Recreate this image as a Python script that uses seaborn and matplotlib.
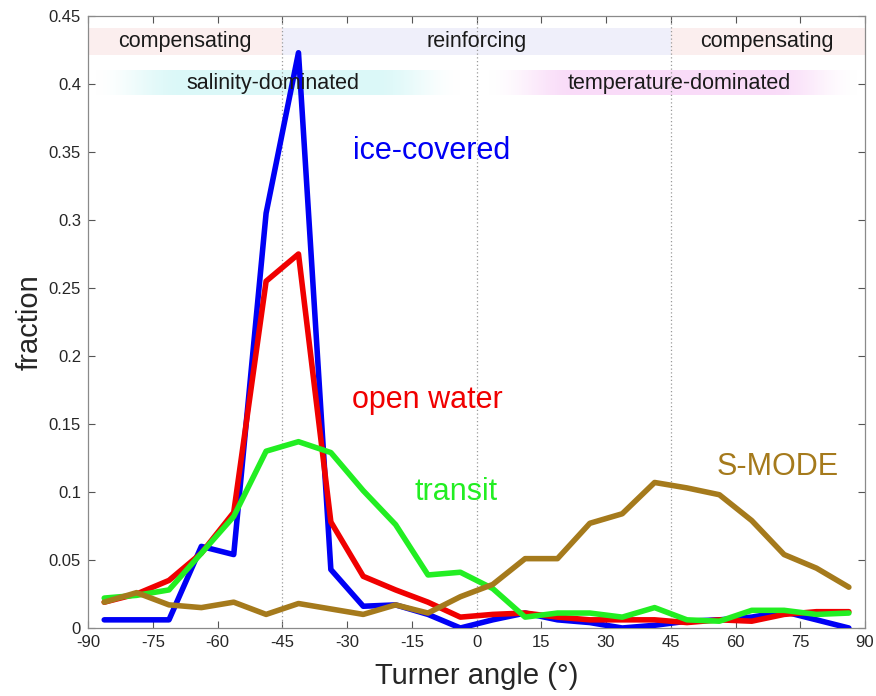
import numpy as np
import pandas as pd
import matplotlib
matplotlib.use("Agg")
import matplotlib.pyplot as plt
import seaborn as sns

# ---- data ----
angle = [-86.25, -78.75, -71.25, -63.75, -56.25, -48.75, -41.25, -33.75,
         -26.25, -18.75, -11.25, -3.75, 3.75, 11.25, 18.75, 26.25,
         33.75, 41.25, 48.75, 56.25, 63.75, 71.25, 78.75, 86.25]

ice_covered = [0.006, 0.006, 0.006, 0.060, 0.054, 0.305, 0.423, 0.043,
               0.016, 0.017, 0.010, 0.000, 0.006, 0.011, 0.006, 0.004,
               0.000, 0.002, 0.005, 0.006, 0.008, 0.012, 0.006, 0.000]
open_water = [0.019, 0.025, 0.035, 0.055, 0.085, 0.255, 0.275, 0.078,
              0.038, 0.028, 0.019, 0.008, 0.010, 0.011, 0.008, 0.006,
              0.006, 0.006, 0.004, 0.006, 0.005, 0.010, 0.012, 0.012]
transit = [0.022, 0.024, 0.028, 0.055, 0.082, 0.130, 0.137, 0.129,
           0.101, 0.076, 0.039, 0.041, 0.029, 0.008, 0.011, 0.011,
           0.008, 0.015, 0.006, 0.005, 0.013, 0.013, 0.010, 0.011]
s_mode = [0.019, 0.026, 0.017, 0.015, 0.019, 0.010, 0.018, 0.014,
          0.010, 0.017, 0.011, 0.023, 0.032, 0.051, 0.051, 0.077,
          0.084, 0.107, 0.103, 0.098, 0.079, 0.054, 0.044, 0.030]

series_names = ["ice-covered", "open water", "transit", "S-MODE"]
series_vals = [ice_covered, open_water, transit, s_mode]
colors = {"ice-covered": "#0000F5", "open water": "#F00000",
          "transit": "#22EE22", "S-MODE": "#A57A1C"}

x_ticks = list(range(-90, 91, 15))
y_ticks = [0, 0.05, 0.1, 0.15, 0.2, 0.25, 0.3, 0.35, 0.4, 0.45]
y_tick_labels = ["0", "0.05", "0.1", "0.15", "0.2", "0.25", "0.3", "0.35", "0.4", "0.45"]

regimes = [("compensating", -90, -45, "#FBEEEE", -67.5),
           ("reinforcing", -45, 45, "#EFEFFA", 0.0),
           ("compensating", 45, 90, "#FBEEEE", 67.3)]
dominance = [("salinity-dominated", -89, -3, (0.86, 0.975, 0.975), -47.1),
             ("temperature-dominated", 2, 89, (0.98, 0.86, 0.975), 47.0)]

label_pos = {"ice-covered": (-10.5, 0.351), "open water": (-11.3, 0.168),
             "transit": (-4.7, 0.100), "S-MODE": (69.8, 0.1186)}

# ---- figure ----
sns.set_theme(style="white")
plt.rcParams["font.family"] = ["Liberation Sans", "DejaVu Sans"]

fig = plt.figure(figsize=(8.76, 6.96), dpi=100)
ax = fig.add_axes([0.1005, 0.0977, 0.887, 0.8793])

df = pd.DataFrame({
    "angle": np.tile(angle, len(series_names)),
    "fraction": np.concatenate(series_vals),
    "series": np.repeat(series_names, len(angle)),
})

# regime band (top)
for name, x0, x1, col, xc in regimes:
    ax.fill_between([x0, x1], 0.421, 0.441, color=col, lw=0, zorder=0)
    ax.text(xc, 0.431, name, ha="center", va="center", fontsize=15.5,
            color="#1a1a1a", zorder=5)

# dominance band (gradient)
for name, x0, x1, col, xc in dominance:
    xs = np.linspace(0, 1, 400)
    alpha = np.clip(np.minimum(xs, 1 - xs) / 0.25, 0, 1)
    alpha = 0.5 - 0.5 * np.cos(np.pi * alpha)
    img = np.zeros((1, len(xs), 4))
    img[..., 0], img[..., 1], img[..., 2] = col
    img[..., 3] = alpha
    ax.imshow(img, extent=[x0, x1, 0.392, 0.410], aspect="auto",
              interpolation="bilinear", zorder=0)
    ax.text(xc, 0.4007, name, ha="center", va="center", fontsize=15.5,
            color="#1a1a1a", zorder=5)

for xv in (-45, 0, 45):
    ax.axvline(xv, color="#9a9a9a", ls=(0, (1, 2)), lw=0.9, zorder=1)

sns.lineplot(data=df, x="angle", y="fraction", hue="series",
             palette=colors, hue_order=series_names, linewidth=4.0,
             legend=False, ax=ax, zorder=3, sort=False)
for line in ax.get_lines():
    line.set_solid_joinstyle("round")

for name in series_names:
    xx, yy = label_pos[name]
    ax.text(xx, yy, name, color=colors[name], fontsize=22,
            ha="center", va="center", zorder=6)

ax.set_xlim(-90, 90)
ax.set_ylim(0, 0.45)
ax.set_xticks(x_ticks)
ax.set_xticklabels([str(t) for t in x_ticks])
ax.set_yticks(y_ticks)
ax.set_yticklabels(y_tick_labels)
ax.tick_params(direction="in", length=5, width=0.8, color="#555555",
               labelsize=12, labelcolor="#262626", top=True, right=True,
               bottom=True, left=True, pad=5)
ax.tick_params(axis="x", labeltop=False)
ax.tick_params(axis="y", labelright=False)
for sp in ax.spines.values():
    sp.set_color("#8a8a8a")
    sp.set_linewidth(0.9)

ax.set_xlabel("Turner angle (°)", fontsize=21, color="#262626", labelpad=9)
ax.set_ylabel("fraction", fontsize=21, color="#262626", labelpad=4)

fig.savefig("out.png", dpi=100)
